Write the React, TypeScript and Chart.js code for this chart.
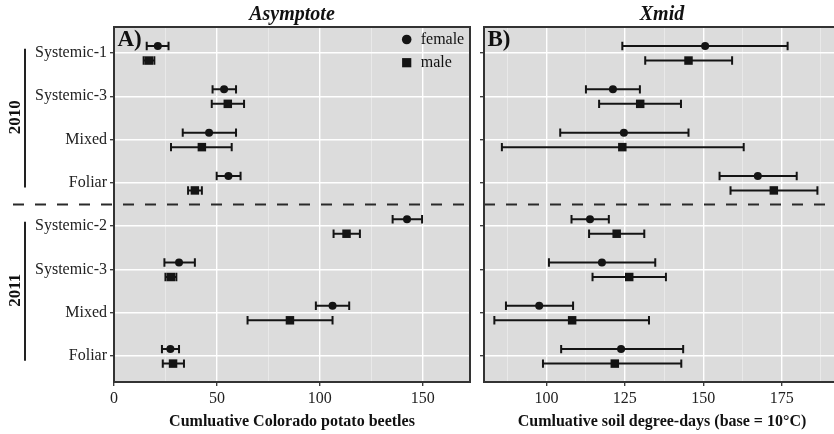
import React, { useEffect, useRef } from 'react';
import { Chart, registerables } from 'chart.js';

Chart.register(...registerables);

// ---------------- data ----------------
const categories = ['Systemic-1', 'Systemic-3', 'Mixed', 'Foliar', 'Systemic-2', 'Systemic-3', 'Mixed', 'Foliar'];
const yearLabels = ['2010', '2011'];
const yearStart = [0, 4];
const yearEnd = [3, 7];

const asymFemale = [21.3, 53.5, 46.2, 55.6, 142.4, 31.6, 106.2, 27.4];
const asymFemaleLo = [15.9, 47.9, 33.4, 49.9, 135.4, 24.5, 98.1, 23.3];
const asymFemaleHi = [26.5, 59.3, 59.3, 61.5, 149.7, 39.3, 114.3, 31.6];
const asymMale = [16.9, 55.3, 42.7, 39.3, 113.0, 27.6, 85.5, 28.7];
const asymMaleLo = [14.4, 47.5, 27.7, 36.0, 106.7, 25.0, 64.9, 23.7];
const asymMaleHi = [19.6, 63.2, 57.2, 42.7, 119.5, 30.3, 106.2, 34.0];

const xmidFemale = [150.6, 121.2, 124.7, 167.4, 113.9, 117.7, 97.7, 123.8];
const xmidFemaleLo = [124.2, 112.6, 104.4, 155.2, 108.0, 100.8, 87.1, 104.7];
const xmidFemaleHi = [176.9, 129.8, 145.3, 179.8, 119.9, 134.7, 108.5, 143.6];
const xmidMale = [145.3, 129.9, 124.2, 172.5, 122.4, 126.4, 108.2, 121.8];
const xmidMaleLo = [131.5, 116.8, 85.8, 158.7, 113.6, 114.7, 83.4, 98.9];
const xmidMaleHi = [159.2, 142.9, 162.9, 186.4, 131.2, 138.1, 132.7, 143.0];

const asymTicks = [0, 25, 50, 75, 100, 125, 150];
const asymMajor = [0, 50, 100, 150];
const xmidTicks = [87.5, 100, 112.5, 125, 137.5, 150, 162.5, 175, 187.5];
const xmidMajor = [100, 125, 150, 175];

// ---------------- styling ----------------
const FONT = "'Liberation Serif', 'DejaVu Serif', serif";
const INK = '#141414';
const AXIS = '#333333';
const PANEL_BG = '#dcdcdc';
const Y_OFF_F = -0.16;
const Y_OFF_M = 0.175;

type PanelSpec = {
  title: string;
  letter: string;
  xTitle: string;
  min: number;
  max: number;
  ticks: number[];
  major: number[];
  female: number[];
  femaleLo: number[];
  femaleHi: number[];
  male: number[];
  maleLo: number[];
  maleHi: number[];
  showLabels: boolean;
  showLegend: boolean;
  showYears: boolean;
  yWidth: number;
  padRight: number;
  dashStart: number | null;
};

function buildChart(canvas: HTMLCanvasElement, p: PanelSpec) {
  const pts = (vals: number[], off: number) => vals.map((v, i) => ({ x: v, y: i + off }));
  const isMajor = (v: number) => p.major.some((m) => Math.abs(m - v) < 1e-6);

  const panelPlugin = {
    id: 'panelDecor',
    beforeDraw(chart: any) {
      const { ctx, chartArea: a } = chart;
      ctx.save();
      ctx.fillStyle = PANEL_BG;
      ctx.fillRect(a.left, a.top, a.right - a.left, a.bottom - a.top);
      ctx.restore();
    },
    beforeDatasetsDraw(chart: any) {
      const { ctx, chartArea: a, scales } = chart;
      const xs = scales.x;
      const ys = scales.y;
      ctx.save();
      // dashed separator between years
      const yd = ys.getPixelForValue(3.5);
      ctx.strokeStyle = '#2a2a2a';
      ctx.lineWidth = 2;
      ctx.setLineDash([11, 11]);
      ctx.beginPath();
      ctx.moveTo(p.dashStart !== null ? p.dashStart : a.left, yd);
      ctx.lineTo(p.dashStart !== null ? a.right : chart.width, yd);
      ctx.stroke();
      ctx.setLineDash([]);
      // error bars
      chart.data.datasets.forEach((ds: any) => {
        ds.data.forEach((pt: any, i: number) => {
          const y = ys.getPixelForValue(pt.y);
          const x1 = xs.getPixelForValue(ds.errLo[i]);
          const x2 = xs.getPixelForValue(ds.errHi[i]);
          ctx.strokeStyle = INK;
          ctx.lineWidth = 2;
          ctx.beginPath();
          ctx.moveTo(x1, y);
          ctx.lineTo(x2, y);
          ctx.moveTo(x1, y - 4.2);
          ctx.lineTo(x1, y + 4.2);
          ctx.moveTo(x2, y - 4.2);
          ctx.lineTo(x2, y + 4.2);
          ctx.stroke();
        });
      });
      ctx.restore();
    },
    afterDatasetsDraw(chart: any) {
      const { ctx, chartArea: a, scales } = chart;
      const ys = scales.y;
      ctx.save();
      // panel border
      ctx.strokeStyle = AXIS;
      ctx.lineWidth = 2;
      ctx.strokeRect(a.left, a.top, a.right - a.left, a.bottom - a.top);
      // panel title
      ctx.fillStyle = '#111';
      ctx.font = `italic bold 20px ${FONT}`;
      ctx.textAlign = 'center';
      ctx.textBaseline = 'middle';
      ctx.fillText(p.title, (a.left + a.right) / 2, 15);
      // panel letter
      ctx.font = `bold 23px ${FONT}`;
      ctx.textAlign = 'left';
      ctx.textBaseline = 'alphabetic';
      ctx.fillText(p.letter, a.left + 3.5, 46);
      // legend
      if (p.showLegend) {
        const cx = a.right - 63.3;
        ctx.fillStyle = INK;
        ctx.beginPath();
        ctx.arc(cx, 39.5, 4.8, 0, Math.PI * 2);
        ctx.fill();
        ctx.fillRect(cx - 4.6, 62.7 - 4.6, 9.2, 9.2);
        ctx.fillStyle = '#111';
        ctx.font = `16px ${FONT}`;
        ctx.textBaseline = 'middle';
        ctx.fillText('female', cx + 14, 40);
        ctx.fillText('male', cx + 14, 62.5);
      }
      // year brackets
      if (p.showYears) {
        yearLabels.forEach((lab, k) => {
          const y1 = ys.getPixelForValue(yearStart[k] - 0.1);
          const y2 = ys.getPixelForValue(yearEnd[k] + 0.11);
          ctx.strokeStyle = '#222';
          ctx.lineWidth = 2;
          ctx.beginPath();
          ctx.moveTo(25, y1);
          ctx.lineTo(25, y2);
          ctx.stroke();
          ctx.save();
          ctx.translate(16, (y1 + y2) / 2 - 1);
          ctx.rotate(-Math.PI / 2);
          ctx.fillStyle = '#111';
          ctx.font = `bold 17px ${FONT}`;
          ctx.textAlign = 'center';
          ctx.textBaseline = 'middle';
          ctx.fillText(lab, 0, 0);
          ctx.restore();
        });
      }
      ctx.restore();
    },
  };

  return new Chart(canvas, {
    type: 'scatter',
    data: {
      datasets: [
        {
          label: 'female',
          data: pts(p.female, Y_OFF_F),
          errLo: p.femaleLo,
          errHi: p.femaleHi,
          pointStyle: 'circle',
          pointRadius: 4,
          backgroundColor: INK,
          borderColor: INK,
          borderWidth: 0,
        } as any,
        {
          label: 'male',
          data: pts(p.male, Y_OFF_M),
          errLo: p.maleLo,
          errHi: p.maleHi,
          pointStyle: 'rect',
          pointRadius: 6,
          backgroundColor: INK,
          borderColor: INK,
          borderWidth: 0,
        } as any,
      ],
    },
    options: {
      animation: false,
      responsive: false,
      events: [],
      layout: { padding: { top: 27, right: p.padRight, left: 0, bottom: 0 } },
      plugins: { legend: { display: false }, tooltip: { enabled: false }, title: { display: false } },
      scales: {
        x: {
          type: 'linear',
          min: p.min,
          max: p.max,
          afterBuildTicks: (s: any) => {
            s.ticks = p.ticks.map((v) => ({ value: v }));
          },
          afterFit: (s: any) => {
            s.height = 52;
          },
          border: { display: false },
          grid: {
            color: (c: any) => (isMajor(c.tick?.value) ? '#ffffff' : 'rgba(255,255,255,0.42)'),
            lineWidth: (c: any) => (isMajor(c.tick?.value) ? 1.4 : 0.9),
            tickColor: (c: any) => (isMajor(c.tick?.value) ? AXIS : 'rgba(0,0,0,0)'),
            tickLength: 4,
            tickWidth: 1.3,
          },
          ticks: {
            autoSkip: false,
            maxRotation: 0,
            padding: 3,
            color: '#222',
            font: { size: 16, family: FONT },
            callback: (v: any) => (isMajor(Number(v)) ? String(v) : ''),
          },
          title: {
            display: true,
            text: p.xTitle,
            color: '#111',
            font: { size: 16, weight: 'bold', family: FONT },
            padding: { top: 0, bottom: 3 },
          },
        },
        y: {
          type: 'linear',
          reverse: true,
          min: -0.6,
          max: 7.6,
          afterBuildTicks: (s: any) => {
            s.ticks = categories.map((_, i) => ({ value: i }));
          },
          afterFit: (s: any) => {
            s.width = p.yWidth;
          },
          border: { display: false },
          grid: {
            color: '#ffffff',
            lineWidth: 1.4,
            tickColor: AXIS,
            tickLength: 4,
            tickWidth: 1.3,
          },
          ticks: {
            autoSkip: false,
            padding: 3,
            color: '#222',
            font: { size: 16, family: FONT },
            callback: (v: any) => (p.showLabels ? categories[Number(v)] : ''),
          },
        },
      },
    } as any,
    plugins: [panelPlugin],
  } as any);
}

const leftSpec: PanelSpec = {
  title: 'Asymptote',
  letter: 'A)',
  xTitle: 'Cumluative Colorado potato beetles',
  min: 0,
  max: 173,
  ticks: asymTicks,
  major: asymMajor,
  female: asymFemale,
  femaleLo: asymFemaleLo,
  femaleHi: asymFemaleHi,
  male: asymMale,
  maleLo: asymMaleLo,
  maleHi: asymMaleHi,
  showLabels: true,
  showLegend: true,
  showYears: true,
  yWidth: 114,
  padRight: 7,
  dashStart: 13,
};

const rightSpec: PanelSpec = {
  title: 'Xmid',
  letter: 'B)',
  xTitle: 'Cumluative soil degree-days (base = 10°C)',
  min: 80.1,
  max: 193.6,
  ticks: xmidTicks,
  major: xmidMajor,
  female: xmidFemale,
  femaleLo: xmidFemaleLo,
  femaleHi: xmidFemaleHi,
  male: xmidMale,
  maleLo: xmidMaleLo,
  maleHi: xmidMaleHi,
  showLabels: false,
  showLegend: false,
  showYears: false,
  yWidth: 7,
  padRight: 7,
  dashStart: null,
};

function Panel({ spec, left, width }: { spec: PanelSpec; left: number; width: number }) {
  const ref = useRef<HTMLCanvasElement>(null);
  useEffect(() => {
    const chart = buildChart(ref.current as HTMLCanvasElement, spec);
    return () => chart.destroy();
  }, [spec]);
  return (
    <canvas
      ref={ref}
      width={width}
      height={434}
      style={{ position: 'absolute', left, top: 0, width, height: 434, display: 'block' }}
    />
  );
}

export default function App() {
  return (
    <div
      style={{
        position: 'fixed',
        left: 0,
        top: 0,
        width: 834,
        height: 434,
        overflow: 'hidden',
        background: '#ffffff',
      }}
    >
      <Panel spec={leftSpec} left={0} width={477} />
      <Panel spec={rightSpec} left={477} width={370} />
    </div>
  );
}
